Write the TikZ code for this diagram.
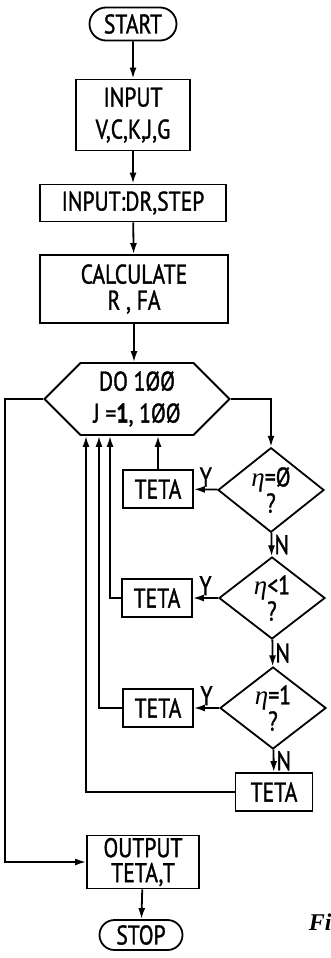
\documentclass[tikz,border=0pt]{standalone}
\usepackage{fontspec}
\setmainfont[FakeStretch=0.8,FakeBold=1.2]{PT Sans}
\newfontfamily\capfont{Liberation Serif}
\newcommand{\eeta}{{\capfont\itshape η}}
\usetikzlibrary{arrows.meta,positioning,shapes.geometric,shapes.misc,shapes.symbols}

\begin{document}
\begin{tikzpicture}[x=1pt,y=-1pt,>={Latex[length=11pt,width=7pt]},line width=1.8pt,
  font=\fontsize{27}{32}\selectfont,
  term/.style={draw,rounded rectangle,inner sep=2pt},
  box/.style={draw,rectangle,align=center,inner sep=2pt},
  cond/.style={draw,diamond,align=center,minimum width=106pt,minimum height=82pt,
               inner sep=0pt,font=\fontsize{27}{22}\selectfont},
  loopbox/.style={draw,signal,signal to=west and east,signal pointer angle=90,
                  align=center,minimum width=185pt,minimum height=72pt,inner sep=0pt},
  teta/.style={box,minimum width=70pt,minimum height=38pt},
  lbl/.style={inner sep=2pt}]
\useasboundingbox (0,0) rectangle (330,958);
% main column
\node[term,minimum width=91pt,minimum height=33pt] (start) at (133,24) {START};
\node[box,minimum width=114pt,minimum height=71pt] (inp) at (133,115) {INPUT\\V,C,K,J,G};
\node[box,minimum width=186pt,minimum height=37pt] (inpdr) at (133,203) {INPUT:DR,STEP};
\node[box,minimum width=188pt,minimum height=68pt,font=\fontsize{27}{26}\selectfont] (calc) at (134,289) {CALCULATE\\R , FA};
\node[loopbox] (do) at (137,399) {DO 1ØØ\\J =\textbf{1}, 1ØØ};
% tests
\node[cond] (c1) at (271,490) {\eeta=Ø\\?};
\node[cond] (c2) at (272,598) {\eeta<1\\?};
\node[cond] (c3) at (273,708) {\eeta=1\\?};
\node[teta] (t1) at (158,489) {TETA};
\node[teta] (t2) at (157,598) {TETA};
\node[teta] (t3) at (158,708) {TETA};
\node[box,minimum width=77pt,minimum height=38pt] (t4) at (274,792) {TETA};
% end
\node[box,minimum width=112pt,minimum height=53pt,font=\fontsize{27}{25}\selectfont] (out) at (143,862) {OUTPUT\\TETA,T};
\node[term,minimum width=87pt,minimum height=30pt] (stop) at (141,935) {STOP};
\node[font=\capfont\bfseries\itshape\fontsize{24}{26}\selectfont,anchor=west,inner sep=0pt] (fig) at (308,922) {Fi};

\draw[->] (start) -- (inp);
\draw[->] (inp) -- (inpdr);
\draw[->] (inpdr) -- (calc);
\draw[->] (calc.south) -- (calc.south |- do.north);
\draw[->] (do.east) -| (c1.north);
\draw[->] (c1) -- node[above,lbl]{Y} (t1);
\draw[->] (c2) -- node[above,lbl]{Y} (t2);
\draw[->] (c3) -- node[above,lbl]{Y} (t3);
\draw[->] (c1) -- node[right,lbl]{N} (c2);
\draw[->] (c2) -- node[right,lbl]{N} (c3);
\draw[->] (c3) -- node[right,lbl]{N} (t4);
% back to the loop
\draw[->] (t1) -- (t1 |- do.south);
\draw[->] (t2.west) -| ([xshift=-27pt]do.south);
\draw[->] (t3.west) -| ([xshift=-38pt]do.south);
\draw[->] (t4.west) -| ([xshift=-51pt]do.south);
\draw[->] (do.west) -- ++(-38,0) |- (out.west);
\draw[->] (out) -- (stop);
\end{tikzpicture}
\end{document}
